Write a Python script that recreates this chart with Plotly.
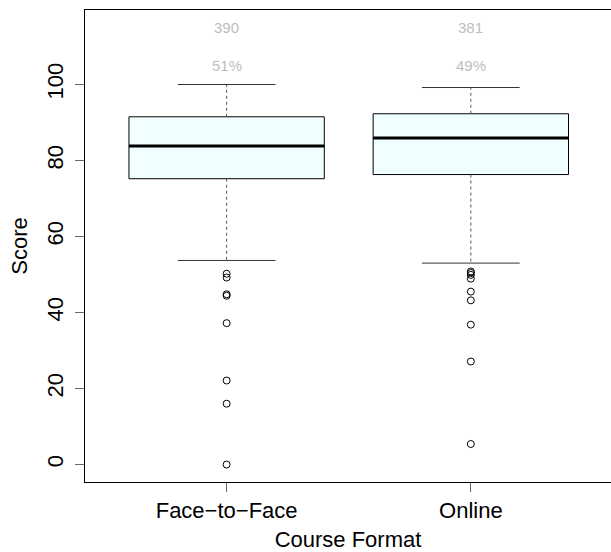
import plotly.graph_objects as go

# ---- data ----
categories = ["Face\u2212to\u2212Face", "Online"]
positions = [1, 2]
q1 = [75.2, 76.3]
median = [83.8, 85.9]
q3 = [91.5, 92.3]
lower_whisker = [53.7, 53.0]
upper_whisker = [100.0, 99.2]
outliers = [
    [50.2, 49.2, 44.8, 44.4, 37.2, 22.1, 16.0, 0.0],
    [50.8, 50.4, 49.9, 48.9, 45.5, 43.2, 36.8, 27.1, 5.4],
]
counts = ["390", "381"]
percents = ["51%", "49%"]
y_ticks = [0, 20, 40, 60, 80, 100]

FONT = "Liberation Sans, Arial, Helvetica, sans-serif"
BOXW = 0.8
STAPLEW = 0.4

fig = go.Figure()

# boxes
fig.add_trace(go.Box(
    x=positions, q1=q1, median=median, q3=q3,
    lowerfence=q1, upperfence=q3,
    width=BOXW, fillcolor="#F0FFFF",
    line=dict(color="black", width=1),
    boxpoints=False, whiskerwidth=0, showlegend=False, hoverinfo="skip",
))

for i, x in enumerate(positions):
    # dashed whiskers
    fig.add_trace(go.Scatter(
        x=[x, x], y=[q3[i], upper_whisker[i]], mode="lines",
        line=dict(color="#555555", width=1, dash="3px,3px"),
        showlegend=False, hoverinfo="skip"))
    fig.add_trace(go.Scatter(
        x=[x, x], y=[q1[i], lower_whisker[i]], mode="lines",
        line=dict(color="#555555", width=1, dash="3px,3px"),
        showlegend=False, hoverinfo="skip"))
    # staples
    for yv in (upper_whisker[i], lower_whisker[i]):
        fig.add_trace(go.Scatter(
            x=[x - STAPLEW / 2, x + STAPLEW / 2], y=[yv, yv], mode="lines",
            line=dict(color="#333333", width=1),
            showlegend=False, hoverinfo="skip"))
    # thick median
    fig.add_trace(go.Scatter(
        x=[x - BOXW / 2, x + BOXW / 2], y=[median[i], median[i]], mode="lines",
        line=dict(color="black", width=3),
        showlegend=False, hoverinfo="skip"))
    # outliers
    fig.add_trace(go.Scatter(
        x=[x] * len(outliers[i]), y=outliers[i], mode="markers",
        marker=dict(symbol="circle-open", size=7, color="black",
                    line=dict(width=1, color="black")),
        showlegend=False, hoverinfo="skip"))
    # count / percent labels
    fig.add_annotation(x=x, y=115, text=counts[i], showarrow=False,
                       font=dict(family=FONT, size=15, color="#BEBEBE"))
    fig.add_annotation(x=x, y=105, text=percents[i], showarrow=False,
                       font=dict(family=FONT, size=15, color="#BEBEBE"))

fig.update_layout(
    width=611, height=552,
    margin=dict(l=85, r=0, t=10, b=70, autoexpand=False),
    paper_bgcolor="white", plot_bgcolor="white",
    font=dict(family=FONT, size=22, color="black"),
    showlegend=False,
    xaxis=dict(
        range=[0.42, 2.574], tickvals=positions, ticktext=categories,
        showgrid=False, zeroline=False,
        showline=True, linecolor="black", linewidth=1, mirror=True,
        ticks="outside", ticklen=9, tickcolor="#666666",
        tickfont=dict(family=FONT, size=22),
        title=dict(text="Course Format", font=dict(family=FONT, size=22), standoff=14),
        automargin=False,
    ),
    yaxis=dict(
        range=[-4.6, 119.6], tickvals=y_ticks,
        ticktext=[str(v) for v in y_ticks],
        showgrid=False, zeroline=False,
        showline=True, linecolor="black", linewidth=1, mirror=False,
        ticks="outside", ticklen=9, tickcolor="#666666", tickangle=-90,
        ticklabelstandoff=3,
        tickfont=dict(family=FONT, size=22),
        title=dict(text="Score", font=dict(family=FONT, size=22), standoff=9),
        automargin=False,
    ),
)

fig.write_html(
    "out.html",
    config={"displayModeBar": False},
    post_script="document.body.style.margin='0';document.body.style.overflow='hidden';",
)
